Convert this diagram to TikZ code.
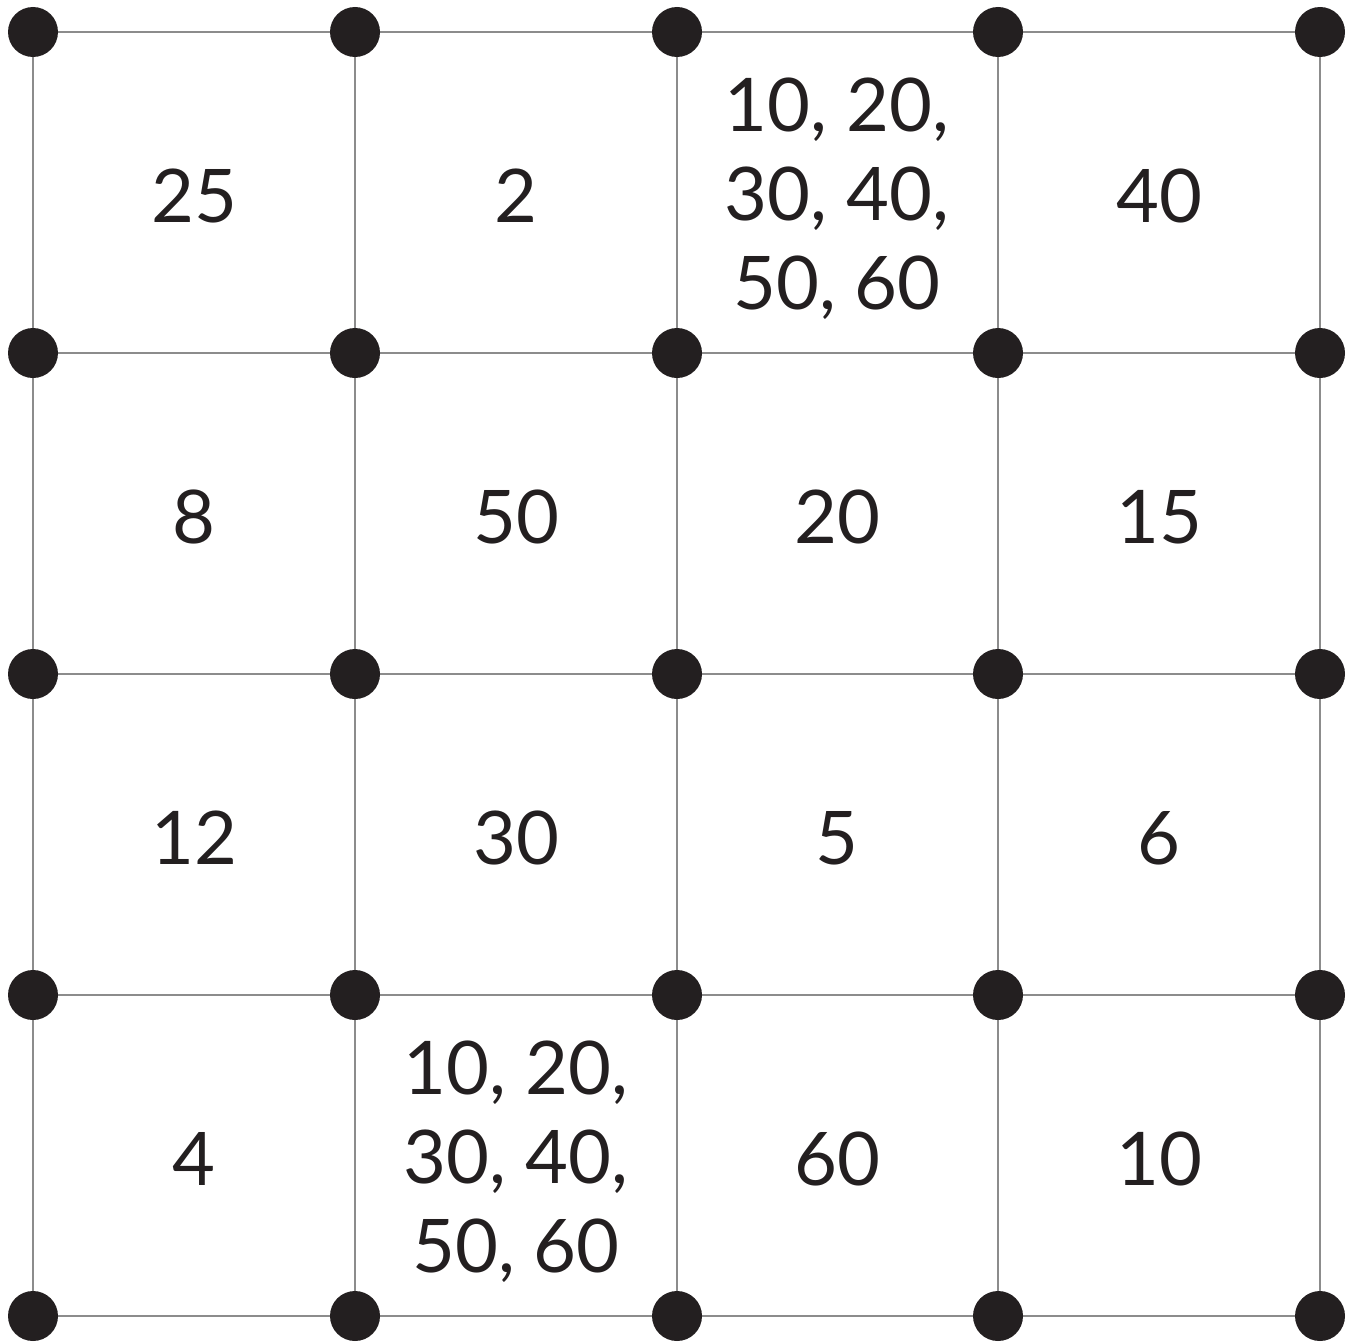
\documentclass[tikz,border=0pt]{standalone}
\usepackage{fontspec}
\setmainfont{Lato}
\definecolor{ink}{HTML}{231F20}
\definecolor{gridgray}{HTML}{8C8C8C}
\tikzset{
  gridline/.style={draw=gridgray, line width=1pt},
  dot/.style={circle, fill=ink, inner sep=0pt, minimum size=25pt},
  cell/.style={text=ink, font=\fontsize{37}{44.5}\selectfont, align=center, inner sep=0pt}
}
\begin{document}
\begin{tikzpicture}[x=0.5pt,y=-0.5pt]
\useasboundingbox (0,0) rectangle (1353,1343);
\def\xs{{33,355,677,998,1320}}
\def\ys{{32,353,674,995,1316}}
\foreach \i in {0,...,4}{
  \foreach \j in {0,...,4}{
    \pgfmathsetmacro\xx{\xs[\j]}
    \pgfmathsetmacro\yy{\ys[\i]}
    \coordinate (p\i\j) at (\xx,\yy);
  }
}
\foreach \i in {0,...,4}{
  \draw[gridline] (p\i0) -- (p\i4);
  \draw[gridline] (p0\i) -- (p4\i);
}
\foreach \i in {0,...,4}{
  \foreach \j in {0,...,4}{
    \node[dot] (d\i\j) at (p\i\j) {};
  }
}
\node[cell] (c00) at (194,196) {25};
\node[cell] (c01) at (516,196) {2};
\node[cell] (c02) at (837,199) {10, 20,\\30, 40,\\50, 60};
\node[cell] (c03) at (1159,196) {40};
\node[cell] (c10) at (194,517) {8};
\node[cell] (c11) at (516,517) {50};
\node[cell] (c12) at (837,517) {20};
\node[cell] (c13) at (1159,517) {15};
\node[cell] (c20) at (194,838) {12};
\node[cell] (c21) at (516,838) {30};
\node[cell] (c22) at (837,838) {5};
\node[cell] (c23) at (1159,838) {6};
\node[cell] (c30) at (194,1159) {4};
\node[cell] (c31) at (516,1162) {10, 20,\\30, 40,\\50, 60};
\node[cell] (c32) at (837,1159) {60};
\node[cell] (c33) at (1159,1159) {10};
\end{tikzpicture}
\end{document}
